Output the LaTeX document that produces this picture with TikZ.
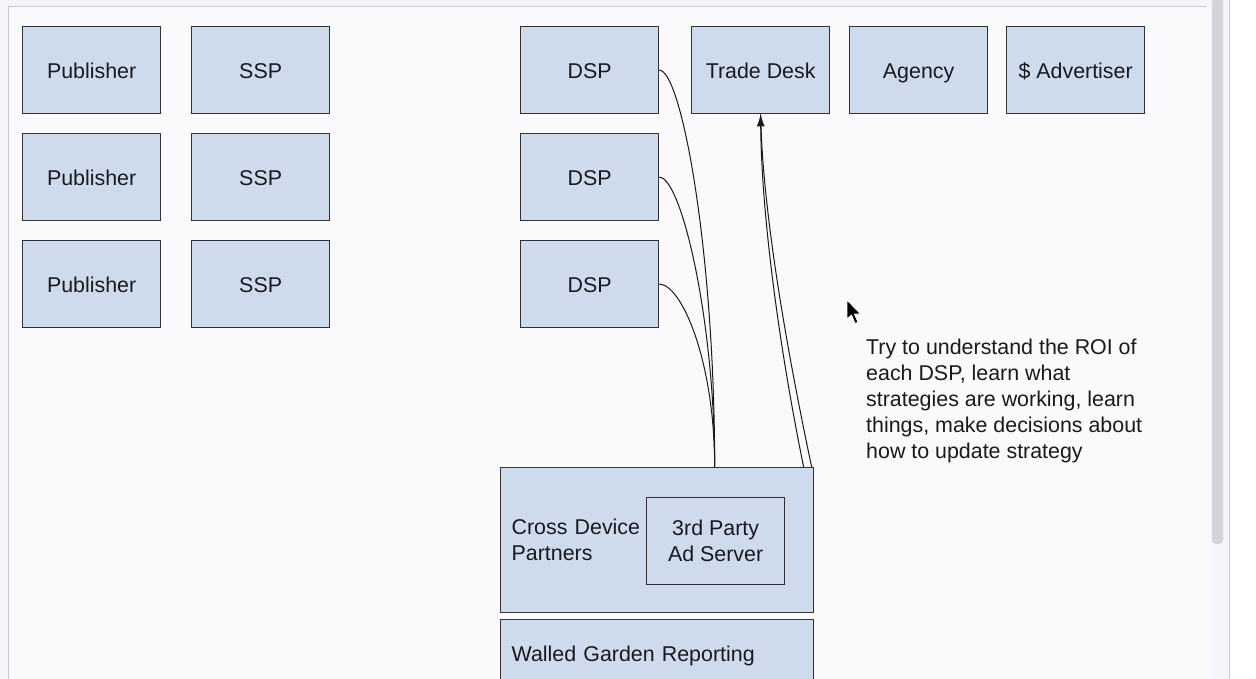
\documentclass[tikz,border=0pt]{standalone}
\usepackage{fontspec}
\setmainfont{Liberation Sans}
\usetikzlibrary{arrows.meta}
\definecolor{boxfill}{RGB}{206,219,237}
\definecolor{boxline}{RGB}{50,50,54}
\definecolor{txt}{RGB}{26,26,30}
\definecolor{pagebg}{RGB}{250,250,252}
\definecolor{outerbg}{RGB}{244,245,248}
\definecolor{framecol}{RGB}{200,201,206}
\definecolor{track}{RGB}{244,245,250}
\definecolor{thumb}{RGB}{211,212,217}
\begin{document}
\begin{tikzpicture}[x=1pt,y=-1pt,
  font=\fontsize{21.4}{26}\selectfont,
  box/.style={draw=boxline, line width=1.3pt, fill=boxfill, text=txt,
    minimum width=138pt, minimum height=87pt, anchor=north west,
    inner sep=0pt, align=center},
  sbox/.style={box, text height=18.5pt, text depth=1.5pt},
  wide/.style={box, minimum width=313pt, text width=291pt, align=left,
    inner xsep=11pt, inner ysep=0pt},
  link/.style={draw=black!90, line width=1pt},
  tip/.style={-{Latex[length=12pt,width=8pt]}}]
\clip (0,0) rectangle (1256,679);
\useasboundingbox (0,0) rectangle (1256,679);
% screen background
\fill[outerbg] (0,0) rectangle (1256,679);
\fill[pagebg] (8,7) rectangle (1211,679);
\fill[white] (1229,0) rectangle (1256,679);
\fill[track] (1211,0) rectangle (1229,679);
\fill[thumb, rounded corners=4pt] (1212,-10) rectangle (1223,544);
\draw[framecol, line width=1pt] (8,679) -- (8,7) -- (1206,7);
\draw[framecol, line width=1pt] (1229,0) -- (1229,679);
% left column
\node[sbox] (pub1) at (22,26) {Publisher};
\node[sbox] (pub2) at (22,133) {Publisher};
\node[sbox] (pub3) at (22,240) {Publisher};
\node[sbox] (ssp1) at (191,26) {SSP};
\node[sbox] (ssp2) at (191,133) {SSP};
\node[sbox] (ssp3) at (191,240) {SSP};
% DSPs
\node[sbox] (dsp1) at (520,26) {DSP};
\node[sbox] (dsp2) at (520,133) {DSP};
\node[sbox] (dsp3) at (520,240) {DSP};
% buyers
\node[sbox] (td) at (691,26) {Trade Desk};
\node[sbox] (agency) at (849,26) {Agency};
\node[sbox] (adv) at (1006,26) {\$ Advertiser};
% bottom
\node[wide, minimum height=145pt] (cross) at (500,467) {Cross Device\\Partners};
\node[box] (adserver) at (646,497) {3rd Party\\Ad Server};
\node[wide, minimum height=72pt] (walled) at (500,619) {Walled Garden Reporting};
% connectors
\draw[link] (dsp1.east) .. controls +(22,0) and +(0,-217) .. ([xshift=57.5pt]cross.north);
\draw[link] (dsp2.east) .. controls +(22,0) and +(0,-147) .. ([xshift=57.5pt]cross.north);
\draw[link] (dsp3.east) .. controls +(22,0) and +(0,-107) .. ([xshift=57.5pt]cross.north);
\draw[link] ([xshift=154.5pt]cross.north) .. controls +(-29,-137) and +(1.5,87) .. (td.south);
\draw[link, tip] ([xshift=146.5pt]cross.north) .. controls +(-28,-137) and +(0.5,87) .. (td.south);
% note
\node[anchor=north west, align=left, inner sep=0pt, text=txt] (note) at (866,338.5)
  {Try to understand the ROI of\\each DSP, learn what\\strategies are working, learn\\things, make decisions about\\how to update strategy};
% mouse pointer
\filldraw[fill=black, draw=white, line width=0.8pt, line join=round]
  (847,300) -- (847,319) -- (851.5,315) -- (855,323.5) -- (858,322.3) -- (854.5,314) -- (860.5,314) -- cycle;
\end{tikzpicture}
\end{document}
